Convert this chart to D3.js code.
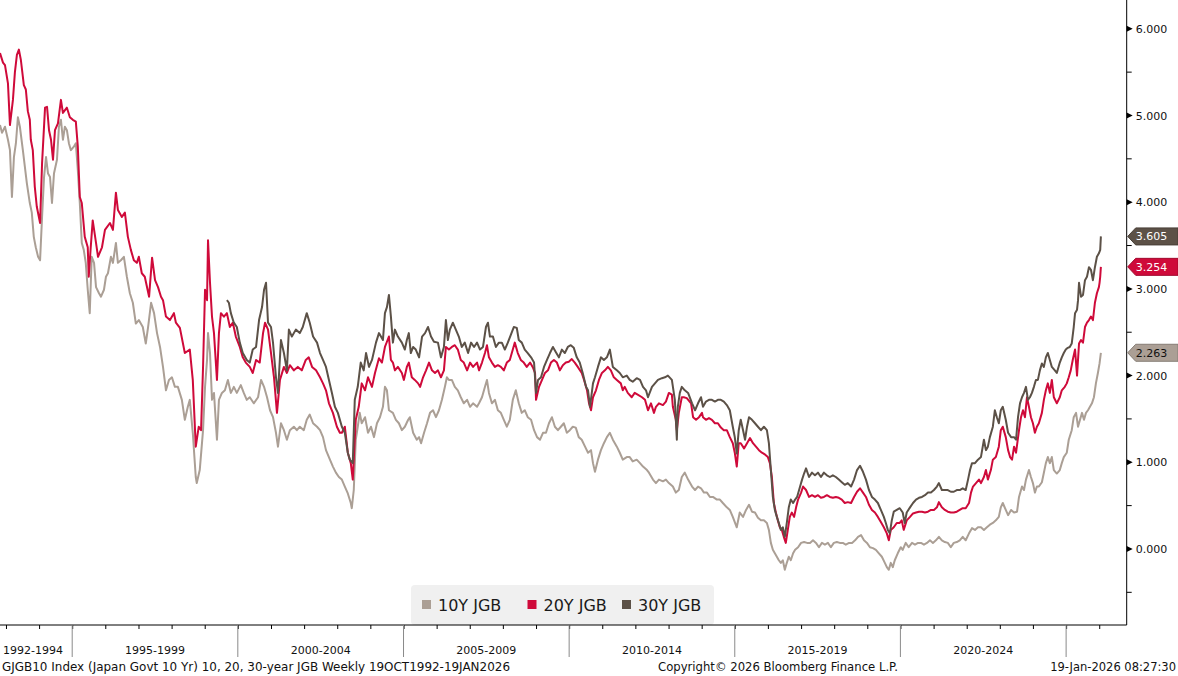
<!DOCTYPE html>
<html>
<head>
<meta charset="utf-8">
<script src="https://cdn.jsdelivr.net/npm/d3@7"></script>
<style>
  body { margin: 0; background: #fff; }
  svg text { font-family: "DejaVu Sans", Verdana, sans-serif; fill: #111; }
</style>
</head>
<body>
<script>
// yields: [decimal year, yield %]
const jgb10 = [[1992.82,4.89],[1992.88,4.80],[1992.97,4.87],[1993.06,4.72],[1993.12,4.60],[1993.18,4.06],[1993.24,4.52],[1993.30,4.68],[1993.36,4.98],[1993.42,4.87],[1993.51,4.60],[1993.57,4.41],[1993.63,4.22],[1993.72,3.99],[1993.78,3.88],[1993.84,3.60],[1993.90,3.48],[1993.97,3.37],[1994.03,3.33],[1994.09,3.83],[1994.15,4.29],[1994.21,4.52],[1994.27,4.33],[1994.33,4.29],[1994.39,3.99],[1994.45,4.33],[1994.54,4.49],[1994.60,4.87],[1994.66,4.95],[1994.72,4.72],[1994.78,4.87],[1994.84,4.83],[1994.90,4.68],[1994.96,4.60],[1995.05,4.64],[1995.11,4.68],[1995.17,4.37],[1995.23,3.99],[1995.29,3.53],[1995.35,3.45],[1995.41,3.30],[1995.47,2.99],[1995.53,2.72],[1995.59,3.37],[1995.66,3.30],[1995.72,3.02],[1995.81,2.95],[1995.87,2.91],[1995.96,2.99],[1996.02,3.14],[1996.08,3.18],[1996.17,3.37],[1996.23,3.30],[1996.32,3.53],[1996.38,3.30],[1996.47,3.33],[1996.56,3.37],[1996.65,3.14],[1996.74,2.95],[1996.83,2.84],[1996.92,2.60],[1997.01,2.64],[1997.13,2.56],[1997.22,2.37],[1997.29,2.56],[1997.38,2.84],[1997.47,2.72],[1997.56,2.49],[1997.65,2.33],[1997.74,2.10],[1997.83,1.83],[1997.92,1.95],[1998.01,1.98],[1998.10,1.87],[1998.19,1.87],[1998.31,1.72],[1998.40,1.49],[1998.49,1.64],[1998.55,1.72],[1998.64,1.34],[1998.73,0.83],[1998.76,0.76],[1998.85,0.91],[1998.95,1.37],[1999.01,1.87],[1999.07,2.18],[1999.10,2.49],[1999.16,2.26],[1999.22,1.72],[1999.28,1.80],[1999.37,1.26],[1999.43,1.72],[1999.52,1.80],[1999.61,1.83],[1999.70,1.95],[1999.79,1.80],[1999.88,1.87],[1999.97,1.80],[2000.09,1.89],[2000.18,1.80],[2000.27,1.72],[2000.36,1.75],[2000.48,1.68],[2000.61,1.75],[2000.70,1.95],[2000.79,1.87],[2000.88,1.75],[2000.97,1.60],[2001.06,1.52],[2001.15,1.34],[2001.21,1.18],[2001.30,1.45],[2001.39,1.37],[2001.48,1.26],[2001.57,1.37],[2001.69,1.41],[2001.78,1.37],[2001.87,1.41],[2001.99,1.37],[2002.08,1.49],[2002.17,1.55],[2002.27,1.45],[2002.39,1.41],[2002.48,1.37],[2002.57,1.29],[2002.66,1.14],[2002.78,1.03],[2002.87,0.95],[2002.96,0.88],[2003.05,0.83],[2003.14,0.80],[2003.23,0.72],[2003.32,0.64],[2003.41,0.53],[2003.44,0.47],[2003.50,0.68],[2003.56,1.26],[2003.62,1.41],[2003.68,1.57],[2003.74,1.45],[2003.84,1.52],[2003.93,1.34],[2004.02,1.41],[2004.11,1.29],[2004.20,1.45],[2004.29,1.52],[2004.38,1.64],[2004.44,1.87],[2004.50,1.83],[2004.56,1.60],[2004.68,1.57],[2004.77,1.49],[2004.86,1.45],[2004.95,1.37],[2005.04,1.41],[2005.14,1.49],[2005.19,1.52],[2005.29,1.34],[2005.40,1.26],[2005.47,1.29],[2005.53,1.22],[2005.62,1.34],[2005.71,1.45],[2005.80,1.57],[2005.89,1.60],[2005.98,1.52],[2006.07,1.60],[2006.16,1.72],[2006.25,1.87],[2006.31,1.98],[2006.37,1.95],[2006.46,1.95],[2006.55,1.87],[2006.64,1.83],[2006.73,1.75],[2006.82,1.68],[2006.92,1.72],[2007.01,1.64],[2007.10,1.68],[2007.22,1.64],[2007.28,1.68],[2007.37,1.75],[2007.46,1.87],[2007.52,1.95],[2007.58,1.80],[2007.67,1.68],[2007.76,1.72],[2007.85,1.60],[2007.94,1.57],[2008.03,1.49],[2008.12,1.41],[2008.21,1.49],[2008.30,1.72],[2008.39,1.83],[2008.48,1.68],[2008.57,1.57],[2008.66,1.60],[2008.75,1.52],[2008.85,1.49],[2008.94,1.37],[2009.03,1.29],[2009.12,1.26],[2009.21,1.34],[2009.30,1.34],[2009.39,1.45],[2009.48,1.52],[2009.57,1.41],[2009.66,1.37],[2009.75,1.41],[2009.84,1.45],[2009.93,1.34],[2010.02,1.37],[2010.11,1.41],[2010.20,1.40],[2010.29,1.29],[2010.38,1.26],[2010.48,1.18],[2010.57,1.11],[2010.66,1.14],[2010.72,0.99],[2010.78,0.89],[2010.87,1.03],[2010.96,1.14],[2011.05,1.22],[2011.14,1.29],[2011.23,1.34],[2011.32,1.26],[2011.44,1.18],[2011.53,1.11],[2011.62,1.03],[2011.74,1.06],[2011.83,1.06],[2011.92,1.01],[2012.04,1.03],[2012.14,0.99],[2012.23,0.95],[2012.35,0.91],[2012.41,0.88],[2012.53,0.80],[2012.62,0.76],[2012.71,0.80],[2012.83,0.78],[2012.92,0.80],[2013.01,0.76],[2013.13,0.72],[2013.22,0.65],[2013.31,0.68],[2013.40,0.83],[2013.49,0.88],[2013.59,0.80],[2013.71,0.72],[2013.80,0.68],[2013.89,0.72],[2013.98,0.70],[2014.07,0.65],[2014.16,0.65],[2014.25,0.60],[2014.34,0.60],[2014.46,0.57],[2014.55,0.57],[2014.64,0.53],[2014.76,0.48],[2014.85,0.45],[2014.94,0.37],[2015.06,0.25],[2015.15,0.42],[2015.25,0.37],[2015.34,0.45],[2015.43,0.51],[2015.52,0.43],[2015.61,0.42],[2015.70,0.36],[2015.79,0.33],[2015.88,0.33],[2015.97,0.30],[2016.03,0.22],[2016.09,0.07],[2016.15,-0.01],[2016.21,-0.05],[2016.27,-0.09],[2016.33,-0.13],[2016.39,-0.16],[2016.45,-0.13],[2016.51,-0.24],[2016.57,-0.16],[2016.63,-0.09],[2016.69,-0.13],[2016.76,-0.05],[2016.82,-0.01],[2016.91,0.02],[2017.00,0.07],[2017.09,0.08],[2017.18,0.07],[2017.27,0.07],[2017.36,0.10],[2017.45,0.07],[2017.54,0.02],[2017.63,0.07],[2017.72,0.05],[2017.81,0.07],[2017.90,0.02],[2017.99,0.07],[2018.08,0.08],[2018.17,0.07],[2018.26,0.07],[2018.35,0.05],[2018.45,0.07],[2018.54,0.07],[2018.63,0.10],[2018.72,0.14],[2018.81,0.16],[2018.90,0.10],[2018.99,0.07],[2019.08,0.02],[2019.17,0.01],[2019.26,-0.01],[2019.35,-0.05],[2019.44,-0.09],[2019.53,-0.16],[2019.59,-0.21],[2019.65,-0.24],[2019.71,-0.16],[2019.77,-0.21],[2019.83,-0.13],[2019.92,-0.05],[2020.01,0.02],[2020.07,-0.01],[2020.16,0.07],[2020.25,0.02],[2020.35,0.07],[2020.44,0.05],[2020.53,0.07],[2020.62,0.07],[2020.71,0.05],[2020.80,0.07],[2020.89,0.10],[2020.98,0.07],[2021.07,0.10],[2021.16,0.14],[2021.25,0.10],[2021.34,0.08],[2021.43,0.07],[2021.52,0.02],[2021.61,0.07],[2021.70,0.08],[2021.79,0.10],[2021.88,0.14],[2021.97,0.10],[2022.07,0.18],[2022.16,0.24],[2022.25,0.22],[2022.34,0.25],[2022.43,0.25],[2022.52,0.22],[2022.61,0.25],[2022.70,0.28],[2022.79,0.30],[2022.88,0.33],[2022.97,0.37],[2023.03,0.48],[2023.09,0.53],[2023.18,0.45],[2023.25,0.39],[2023.34,0.45],[2023.43,0.42],[2023.52,0.43],[2023.58,0.60],[2023.67,0.72],[2023.73,0.68],[2023.79,0.80],[2023.88,0.91],[2023.94,0.83],[2024.00,0.76],[2024.06,0.65],[2024.12,0.72],[2024.18,0.72],[2024.27,0.77],[2024.33,0.88],[2024.39,0.99],[2024.45,1.06],[2024.51,0.99],[2024.57,1.06],[2024.63,0.91],[2024.72,0.87],[2024.81,0.91],[2024.87,0.99],[2024.93,1.06],[2025.02,1.11],[2025.08,1.26],[2025.17,1.37],[2025.23,1.52],[2025.30,1.57],[2025.36,1.41],[2025.42,1.49],[2025.48,1.57],[2025.54,1.49],[2025.60,1.57],[2025.66,1.60],[2025.72,1.64],[2025.78,1.68],[2025.84,1.75],[2025.90,1.91],[2025.96,2.03],[2026.01,2.14],[2026.05,2.263]];

const jgb20 = [[1992.82,5.72],[1992.91,5.61],[1992.97,5.58],[1993.06,5.37],[1993.12,4.89],[1993.21,5.18],[1993.27,5.50],[1993.33,5.70],[1993.39,5.76],[1993.45,5.64],[1993.54,5.35],[1993.60,5.30],[1993.66,5.05],[1993.72,4.95],[1993.75,4.72],[1993.81,4.60],[1993.87,4.18],[1993.93,3.95],[1994.03,3.76],[1994.09,4.45],[1994.18,5.09],[1994.24,5.10],[1994.30,4.83],[1994.36,4.72],[1994.42,4.49],[1994.48,4.83],[1994.57,4.91],[1994.66,5.18],[1994.72,5.03],[1994.84,5.09],[1994.93,4.98],[1995.02,4.95],[1995.11,4.93],[1995.17,4.64],[1995.23,4.06],[1995.29,3.99],[1995.38,3.60],[1995.47,3.48],[1995.50,3.14],[1995.56,3.48],[1995.62,3.79],[1995.72,3.53],[1995.78,3.37],[1995.90,3.48],[1995.99,3.68],[1996.14,3.76],[1996.23,3.68],[1996.32,4.11],[1996.38,3.91],[1996.50,3.83],[1996.59,3.88],[1996.68,3.60],[1996.77,3.45],[1996.86,3.33],[1996.95,3.30],[1997.01,3.37],[1997.10,3.18],[1997.19,3.14],[1997.32,2.91],[1997.41,3.36],[1997.50,3.10],[1997.59,3.02],[1997.68,2.91],[1997.74,2.87],[1997.83,2.68],[1997.95,2.64],[1998.07,2.72],[1998.13,2.61],[1998.25,2.55],[1998.40,2.26],[1998.55,2.30],[1998.64,1.95],[1998.73,1.18],[1998.82,1.41],[1998.89,1.37],[1998.95,2.10],[1999.01,2.99],[1999.07,2.87],[1999.10,3.56],[1999.16,3.07],[1999.22,2.68],[1999.28,2.49],[1999.37,1.95],[1999.43,2.49],[1999.49,2.72],[1999.58,2.68],[1999.67,2.72],[1999.76,2.56],[1999.85,2.61],[1999.94,2.45],[2000.06,2.33],[2000.15,2.21],[2000.24,2.15],[2000.36,2.10],[2000.45,2.03],[2000.55,2.18],[2000.66,2.15],[2000.76,2.49],[2000.82,2.61],[2000.91,2.53],[2001.00,2.26],[2001.09,1.98],[2001.18,1.57],[2001.27,1.95],[2001.39,2.10],[2001.48,2.03],[2001.57,2.12],[2001.69,2.06],[2001.81,2.10],[2001.93,2.06],[2002.05,2.18],[2002.14,2.21],[2002.24,2.10],[2002.36,2.06],[2002.48,1.98],[2002.57,1.91],[2002.66,1.83],[2002.75,1.68],[2002.87,1.57],[2002.99,1.41],[2003.08,1.34],[2003.14,1.34],[2003.23,1.41],[2003.32,1.11],[2003.41,0.99],[2003.47,0.80],[2003.56,1.49],[2003.65,1.64],[2003.74,1.91],[2003.84,1.83],[2003.93,1.98],[2004.05,1.87],[2004.14,2.03],[2004.26,2.20],[2004.35,2.15],[2004.44,2.33],[2004.50,2.39],[2004.56,2.45],[2004.62,2.18],[2004.68,2.15],[2004.74,2.06],[2004.83,2.10],[2004.95,2.03],[2005.01,1.95],[2005.10,2.10],[2005.16,2.15],[2005.25,1.98],[2005.34,1.95],[2005.44,1.91],[2005.50,1.87],[2005.59,1.98],[2005.68,2.06],[2005.77,2.15],[2005.86,2.06],[2005.95,2.03],[2006.04,2.06],[2006.13,1.98],[2006.22,2.06],[2006.28,2.33],[2006.37,2.30],[2006.46,2.33],[2006.55,2.35],[2006.64,2.30],[2006.73,2.18],[2006.82,2.15],[2006.92,2.06],[2007.01,2.15],[2007.10,2.10],[2007.22,2.15],[2007.28,2.06],[2007.37,2.15],[2007.46,2.26],[2007.52,2.35],[2007.58,2.21],[2007.67,2.15],[2007.76,2.10],[2007.85,2.12],[2007.94,2.10],[2008.03,2.06],[2008.12,2.15],[2008.21,2.18],[2008.30,2.30],[2008.36,2.38],[2008.45,2.26],[2008.54,2.18],[2008.63,2.15],[2008.72,2.10],[2008.82,2.15],[2008.91,2.09],[2008.97,2.03],[2009.00,1.72],[2009.09,1.87],[2009.18,1.95],[2009.27,2.03],[2009.36,2.06],[2009.45,2.15],[2009.54,2.18],[2009.63,2.15],[2009.72,2.06],[2009.81,2.12],[2009.90,2.15],[2009.99,2.16],[2010.08,2.19],[2010.17,2.15],[2010.26,2.10],[2010.38,2.03],[2010.45,1.95],[2010.54,1.83],[2010.60,1.68],[2010.66,1.60],[2010.72,1.75],[2010.81,1.83],[2010.90,1.95],[2010.99,2.03],[2011.08,2.06],[2011.17,2.10],[2011.26,2.06],[2011.35,1.98],[2011.44,1.95],[2011.56,1.91],[2011.62,1.83],[2011.68,1.87],[2011.77,1.80],[2011.89,1.75],[2011.98,1.80],[2012.07,1.78],[2012.20,1.75],[2012.29,1.72],[2012.38,1.60],[2012.47,1.68],[2012.56,1.57],[2012.62,1.64],[2012.71,1.68],[2012.83,1.66],[2012.92,1.70],[2013.01,1.80],[2013.10,1.78],[2013.13,1.64],[2013.22,1.49],[2013.25,1.37],[2013.31,1.57],[2013.40,1.75],[2013.46,1.75],[2013.55,1.74],[2013.68,1.68],[2013.74,1.52],[2013.83,1.49],[2013.92,1.52],[2014.01,1.57],[2014.04,1.52],[2014.13,1.49],[2014.22,1.51],[2014.31,1.49],[2014.40,1.45],[2014.49,1.45],[2014.58,1.40],[2014.67,1.37],[2014.76,1.37],[2014.85,1.29],[2014.94,1.22],[2015.00,1.11],[2015.06,0.95],[2015.12,1.22],[2015.18,1.22],[2015.28,1.16],[2015.37,1.22],[2015.46,1.28],[2015.55,1.22],[2015.64,1.18],[2015.73,1.14],[2015.82,1.11],[2015.91,1.09],[2016.00,1.06],[2016.06,0.99],[2016.12,0.83],[2016.18,0.53],[2016.24,0.42],[2016.30,0.33],[2016.36,0.25],[2016.42,0.22],[2016.48,0.14],[2016.54,0.07],[2016.60,0.22],[2016.66,0.37],[2016.72,0.42],[2016.79,0.37],[2016.85,0.48],[2016.91,0.57],[2017.00,0.65],[2017.06,0.72],[2017.15,0.68],[2017.24,0.60],[2017.33,0.62],[2017.42,0.60],[2017.51,0.62],[2017.60,0.59],[2017.69,0.60],[2017.78,0.62],[2017.87,0.60],[2017.96,0.59],[2018.05,0.60],[2018.14,0.59],[2018.23,0.57],[2018.32,0.53],[2018.41,0.54],[2018.51,0.53],[2018.60,0.60],[2018.69,0.66],[2018.78,0.70],[2018.87,0.65],[2018.96,0.60],[2019.05,0.51],[2019.14,0.45],[2019.23,0.42],[2019.32,0.37],[2019.41,0.31],[2019.50,0.25],[2019.59,0.18],[2019.65,0.10],[2019.71,0.22],[2019.80,0.25],[2019.89,0.30],[2019.98,0.30],[2020.04,0.33],[2020.10,0.22],[2020.19,0.33],[2020.29,0.37],[2020.38,0.41],[2020.47,0.42],[2020.56,0.43],[2020.65,0.43],[2020.74,0.42],[2020.83,0.43],[2020.92,0.45],[2021.01,0.45],[2021.10,0.48],[2021.16,0.54],[2021.25,0.48],[2021.34,0.45],[2021.43,0.43],[2021.52,0.42],[2021.61,0.42],[2021.70,0.43],[2021.79,0.45],[2021.88,0.47],[2021.97,0.47],[2022.07,0.53],[2022.13,0.65],[2022.19,0.72],[2022.28,0.76],[2022.37,0.80],[2022.43,0.76],[2022.52,0.83],[2022.58,0.91],[2022.64,0.80],[2022.73,0.91],[2022.79,1.03],[2022.88,1.06],[2022.97,1.18],[2023.03,1.37],[2023.09,1.41],[2023.18,1.29],[2023.25,1.14],[2023.31,1.06],[2023.37,1.03],[2023.43,1.18],[2023.49,1.11],[2023.58,1.37],[2023.64,1.52],[2023.70,1.60],[2023.76,1.52],[2023.82,1.75],[2023.88,1.64],[2023.94,1.52],[2024.00,1.45],[2024.06,1.34],[2024.12,1.41],[2024.18,1.45],[2024.27,1.57],[2024.33,1.72],[2024.39,1.83],[2024.45,1.91],[2024.51,1.80],[2024.57,1.95],[2024.63,1.75],[2024.72,1.68],[2024.81,1.75],[2024.87,1.83],[2024.96,1.87],[2025.02,1.91],[2025.08,1.98],[2025.14,2.06],[2025.20,2.18],[2025.27,2.30],[2025.33,2.00],[2025.39,2.37],[2025.45,2.41],[2025.51,2.38],[2025.57,2.56],[2025.63,2.61],[2025.69,2.64],[2025.75,2.68],[2025.81,2.64],[2025.87,2.84],[2025.93,2.95],[2025.99,3.02],[2026.01,3.07],[2026.03,3.14],[2026.05,3.254]];

const jgb30 = [[1999.67,2.87],[1999.73,2.84],[1999.79,2.72],[1999.88,2.61],[1999.97,2.56],[2000.06,2.38],[2000.15,2.26],[2000.27,2.18],[2000.36,2.15],[2000.45,2.30],[2000.55,2.33],[2000.64,2.64],[2000.73,2.79],[2000.79,2.99],[2000.85,3.07],[2000.91,2.61],[2001.00,2.56],[2001.06,2.38],[2001.15,1.98],[2001.21,1.80],[2001.30,2.41],[2001.39,2.26],[2001.48,2.06],[2001.54,2.53],[2001.63,2.45],[2001.75,2.53],[2001.87,2.49],[2001.96,2.56],[2002.08,2.72],[2002.17,2.61],[2002.27,2.45],[2002.39,2.38],[2002.48,2.26],[2002.57,2.18],[2002.66,2.10],[2002.75,1.95],[2002.84,1.80],[2002.93,1.64],[2003.02,1.57],[2003.14,1.41],[2003.23,1.34],[2003.32,1.11],[2003.38,1.03],[2003.47,0.99],[2003.53,1.72],[2003.62,1.87],[2003.71,2.15],[2003.80,2.06],[2003.87,2.26],[2003.96,2.10],[2004.05,2.18],[2004.17,2.38],[2004.26,2.49],[2004.38,2.41],[2004.44,2.72],[2004.50,2.79],[2004.56,2.93],[2004.62,2.68],[2004.68,2.38],[2004.74,2.53],[2004.83,2.45],[2004.95,2.38],[2005.04,2.30],[2005.10,2.41],[2005.16,2.49],[2005.22,2.26],[2005.29,2.33],[2005.37,2.30],[2005.47,2.21],[2005.56,2.45],[2005.65,2.49],[2005.74,2.56],[2005.83,2.45],[2005.92,2.39],[2006.04,2.38],[2006.13,2.21],[2006.22,2.33],[2006.28,2.64],[2006.34,2.41],[2006.40,2.53],[2006.49,2.61],[2006.58,2.53],[2006.67,2.45],[2006.76,2.33],[2006.85,2.38],[2006.95,2.26],[2007.04,2.38],[2007.13,2.33],[2007.22,2.38],[2007.31,2.30],[2007.40,2.33],[2007.49,2.56],[2007.55,2.61],[2007.61,2.45],[2007.70,2.45],[2007.79,2.33],[2007.88,2.38],[2007.97,2.38],[2008.06,2.30],[2008.15,2.38],[2008.24,2.47],[2008.33,2.56],[2008.42,2.55],[2008.48,2.41],[2008.57,2.38],[2008.66,2.30],[2008.75,2.26],[2008.85,2.21],[2008.94,2.15],[2009.00,1.80],[2009.06,1.95],[2009.15,1.98],[2009.24,2.10],[2009.33,2.18],[2009.42,2.26],[2009.51,2.33],[2009.60,2.27],[2009.69,2.21],[2009.78,2.30],[2009.87,2.26],[2009.96,2.33],[2010.05,2.35],[2010.14,2.32],[2010.23,2.21],[2010.32,2.15],[2010.41,2.03],[2010.51,1.87],[2010.57,1.83],[2010.63,1.64],[2010.72,1.91],[2010.78,1.98],[2010.87,2.10],[2010.96,2.21],[2011.05,2.18],[2011.14,2.21],[2011.23,2.30],[2011.32,2.10],[2011.44,2.06],[2011.53,2.03],[2011.62,1.98],[2011.74,2.00],[2011.83,1.95],[2011.92,1.93],[2012.04,1.97],[2012.14,1.95],[2012.23,1.87],[2012.32,1.83],[2012.38,1.75],[2012.50,1.87],[2012.59,1.91],[2012.68,1.95],[2012.80,1.97],[2012.89,1.98],[2012.98,2.00],[2013.10,1.95],[2013.19,1.72],[2013.25,1.26],[2013.28,1.64],[2013.34,1.80],[2013.40,1.87],[2013.49,1.83],[2013.59,1.80],[2013.71,1.68],[2013.80,1.60],[2013.89,1.68],[2013.98,1.75],[2014.04,1.64],[2014.13,1.70],[2014.22,1.72],[2014.31,1.72],[2014.40,1.70],[2014.49,1.72],[2014.58,1.72],[2014.67,1.70],[2014.76,1.66],[2014.85,1.60],[2014.94,1.41],[2015.00,1.29],[2015.06,1.10],[2015.12,1.37],[2015.18,1.49],[2015.25,1.37],[2015.31,1.26],[2015.37,1.41],[2015.43,1.52],[2015.52,1.49],[2015.61,1.45],[2015.70,1.41],[2015.79,1.37],[2015.88,1.41],[2015.97,1.37],[2016.03,1.22],[2016.09,0.91],[2016.15,0.60],[2016.21,0.45],[2016.27,0.37],[2016.33,0.30],[2016.39,0.22],[2016.45,0.25],[2016.51,0.14],[2016.57,0.30],[2016.63,0.48],[2016.69,0.57],[2016.76,0.53],[2016.82,0.57],[2016.88,0.60],[2016.97,0.72],[2017.03,0.80],[2017.09,0.87],[2017.15,0.93],[2017.24,0.83],[2017.33,0.88],[2017.42,0.85],[2017.51,0.88],[2017.60,0.83],[2017.69,0.88],[2017.78,0.85],[2017.87,0.83],[2017.96,0.85],[2018.05,0.83],[2018.14,0.80],[2018.23,0.77],[2018.32,0.74],[2018.41,0.76],[2018.51,0.72],[2018.60,0.80],[2018.69,0.91],[2018.78,0.96],[2018.87,0.89],[2018.96,0.80],[2019.05,0.68],[2019.14,0.60],[2019.23,0.57],[2019.32,0.53],[2019.41,0.45],[2019.50,0.37],[2019.56,0.30],[2019.62,0.22],[2019.68,0.18],[2019.74,0.33],[2019.80,0.43],[2019.89,0.45],[2019.98,0.47],[2020.07,0.42],[2020.13,0.30],[2020.19,0.42],[2020.29,0.48],[2020.38,0.53],[2020.47,0.57],[2020.56,0.59],[2020.65,0.60],[2020.74,0.62],[2020.83,0.65],[2020.92,0.65],[2021.01,0.68],[2021.10,0.72],[2021.16,0.76],[2021.25,0.68],[2021.34,0.68],[2021.43,0.68],[2021.52,0.66],[2021.61,0.66],[2021.70,0.68],[2021.79,0.68],[2021.88,0.70],[2021.97,0.68],[2022.04,0.80],[2022.10,0.91],[2022.16,0.99],[2022.25,0.99],[2022.34,1.03],[2022.43,1.06],[2022.52,1.26],[2022.58,1.14],[2022.64,1.18],[2022.70,1.29],[2022.79,1.41],[2022.85,1.60],[2022.91,1.52],[2022.97,1.45],[2023.03,1.60],[2023.09,1.64],[2023.18,1.49],[2023.25,1.34],[2023.34,1.29],[2023.43,1.29],[2023.49,1.26],[2023.55,1.52],[2023.61,1.68],[2023.67,1.75],[2023.73,1.80],[2023.79,1.87],[2023.85,1.72],[2023.91,1.75],[2023.97,1.80],[2024.03,1.87],[2024.09,1.95],[2024.15,1.95],[2024.21,2.06],[2024.27,2.14],[2024.33,2.10],[2024.39,2.21],[2024.45,2.26],[2024.51,2.18],[2024.57,2.10],[2024.66,2.06],[2024.72,2.03],[2024.81,2.15],[2024.87,2.21],[2024.93,2.26],[2024.99,2.30],[2025.05,2.32],[2025.11,2.33],[2025.17,2.37],[2025.23,2.56],[2025.27,2.72],[2025.33,2.76],[2025.36,2.87],[2025.39,3.07],[2025.45,2.91],[2025.51,2.93],[2025.57,3.10],[2025.63,3.14],[2025.69,3.25],[2025.75,3.22],[2025.81,3.10],[2025.87,3.25],[2025.93,3.37],[2025.99,3.41],[2026.03,3.45],[2026.05,3.605]];

const seriesNames = ["10Y JGB", "20Y JGB", "30Y JGB"];
const seriesColors = ["#ab9f95", "#cf0a3a", "#5c5147"];
const labelTextColors = ["#111", "#fff", "#fff"];
const yTicks = [0, 1, 2, 3, 4, 5, 6];
const periodBreaks = [1995, 2000, 2005, 2010, 2015, 2020, 2025];
const periodLabels = ["1992-1994", "1995-1999", "2000-2004", "2005-2009", "2010-2014", "2015-2019", "2020-2024"];
const footLeft = "GJGB10 Index (Japan Govt 10 Yr) 10, 20, 30-year JGB Weekly 19OCT1992-19JAN2026";
const footMid = "Copyright\u00a9 2026 Bloomberg Finance L.P.";
const footRight = "19-Jan-2026 08:27:30";

const width = 1178, height = 676;
const plotW = 1126.7, plotB = 625;

// decimal year -> Date
const toDate = t => {
  const yr = Math.floor(t);
  const a = new Date(yr, 0, 1), b = new Date(yr + 1, 0, 1);
  return new Date(a.getTime() + (t - yr) * (b - a));
};

const x = d3.scaleTime()
  .domain([toDate(1992.82), toDate(2026.83)])
  .range([0, plotW]);

const y = d3.scaleLinear()
  .domain([-0.877, 6.332])
  .range([plotB, 0]);

const svg = d3.select("body").append("svg")
  .attr("width", width)
  .attr("height", height);

// legend box sits behind everything
svg.append("rect")
  .attr("x", 411).attr("y", 585)
  .attr("width", 303).attr("height", 40)
  .attr("rx", 4)
  .attr("fill", "#f0f0f0");

const line = d3.line()
  .x(d => x(toDate(d[0])))
  .y(d => y(d[1]));

const allSeries = [jgb10, jgb20, jgb30];

svg.append("g")
  .selectAll("path")
  .data(allSeries)
  .enter()
  .append("path")
  .attr("d", line)
  .attr("fill", "none")
  .attr("stroke", (d, i) => seriesColors[i])
  .attr("stroke-width", 2)
  .attr("stroke-linejoin", "round");

// frame: right axis + bottom axis
svg.append("line")
  .attr("x1", plotW).attr("x2", plotW)
  .attr("y1", 0).attr("y2", plotB)
  .attr("stroke", "#000");
svg.append("line")
  .attr("x1", 0).attr("x2", plotW)
  .attr("y1", plotB).attr("y2", plotB)
  .attr("stroke", "#000");

// y axis on the right
const yAxis = svg.append("g")
  .attr("transform", `translate(${plotW},0)`)
  .call(d3.axisRight(y).tickValues(yTicks).tickFormat(d3.format(".3f")).tickSize(0).tickPadding(9));
yAxis.select(".domain").remove();
yAxis.selectAll("text")
  .style("font-family", "'DejaVu Sans', Verdana, sans-serif")
  .style("font-size", "11px")
  .attr("fill", "#111");

svg.append("g")
  .selectAll("path")
  .data(yTicks)
  .enter()
  .append("path")
  .attr("d", d => `M${plotW},${y(d) - 3}L${plotW},${y(d) + 3}L${plotW + 6},${y(d)}Z`)
  .attr("fill", "#000");

svg.append("g")
  .selectAll("line")
  .data(yTicks.map(d => d - 0.5))
  .enter()
  .append("line")
  .attr("x1", plotW).attr("x2", plotW + 5)
  .attr("y1", d => y(d)).attr("y2", d => y(d))
  .attr("stroke", "#000");

// x axis: yearly ticks
const xAxis = svg.append("g")
  .attr("transform", `translate(0,${plotB})`)
  .call(d3.axisBottom(x).ticks(d3.timeYear.every(1)).tickSize(4).tickFormat(""));
xAxis.select(".domain").remove();
xAxis.selectAll("line").attr("stroke", "#000");

// period separators and labels
svg.append("g")
  .selectAll("line")
  .data(periodBreaks)
  .enter()
  .append("line")
  .attr("x1", d => x(toDate(d))).attr("x2", d => x(toDate(d)))
  .attr("y1", plotB).attr("y2", 657)
  .attr("stroke", "#8a8a8a");

const bounds = [x.domain()[0]].concat(periodBreaks.map(toDate));
svg.append("g")
  .selectAll("text")
  .data(periodLabels)
  .enter()
  .append("text")
  .attr("x", (d, i) => (x(bounds[i]) + x(bounds[i + 1])) / 2 - (i === 0 ? 3 : 0))
  .attr("y", 654)
  .attr("text-anchor", "middle")
  .style("font-size", "11px")
  .text(d => d);

// last-value tags
const tags = svg.append("g");
allSeries.forEach((s, i) => {
  const last = s[s.length - 1][1];
  const cy = y(last);
  tags.append("path")
    .attr("d", `M${plotW + 1},${cy}L${plotW + 9},${cy - 8.5}L${width},${cy - 8.5}L${width},${cy + 8.5}L${plotW + 9},${cy + 8.5}Z`)
    .attr("fill", seriesColors[i])
    .attr("stroke", d3.color(seriesColors[i]).darker(0.7))
    .attr("stroke-width", 1);
  tags.append("text")
    .attr("x", plotW + 9)
    .attr("y", cy + 4)
    .style("font-size", "11px")
    .style("fill", labelTextColors[i])
    .text(d3.format(".3f")(last));
});

// legend
const legendX = [422, 527.5, 622];
const legend = svg.append("g");
seriesNames.forEach((name, i) => {
  legend.append("rect")
    .attr("x", legendX[i]).attr("y", 600)
    .attr("width", 9).attr("height", 9)
    .attr("fill", seriesColors[i]);
  legend.append("text")
    .attr("x", legendX[i] + 16)
    .attr("y", 611)
    .style("font-size", "16px")
    .style("fill", "#1a1a1a")
    .text(name);
});

// footer
svg.append("text")
  .attr("x", 2).attr("y", 671)
  .attr("textLength", 508).attr("lengthAdjust", "spacingAndGlyphs")
  .style("font-size", "11.5px")
  .text(footLeft);
svg.append("text")
  .attr("x", 658).attr("y", 671)
  .attr("textLength", 240).attr("lengthAdjust", "spacingAndGlyphs")
  .style("font-size", "11.5px")
  .text(footMid);
svg.append("text")
  .attr("x", 1176).attr("y", 671)
  .attr("text-anchor", "end")
  .style("font-size", "11.5px")
  .text(footRight);
</script>
</body>
</html>
